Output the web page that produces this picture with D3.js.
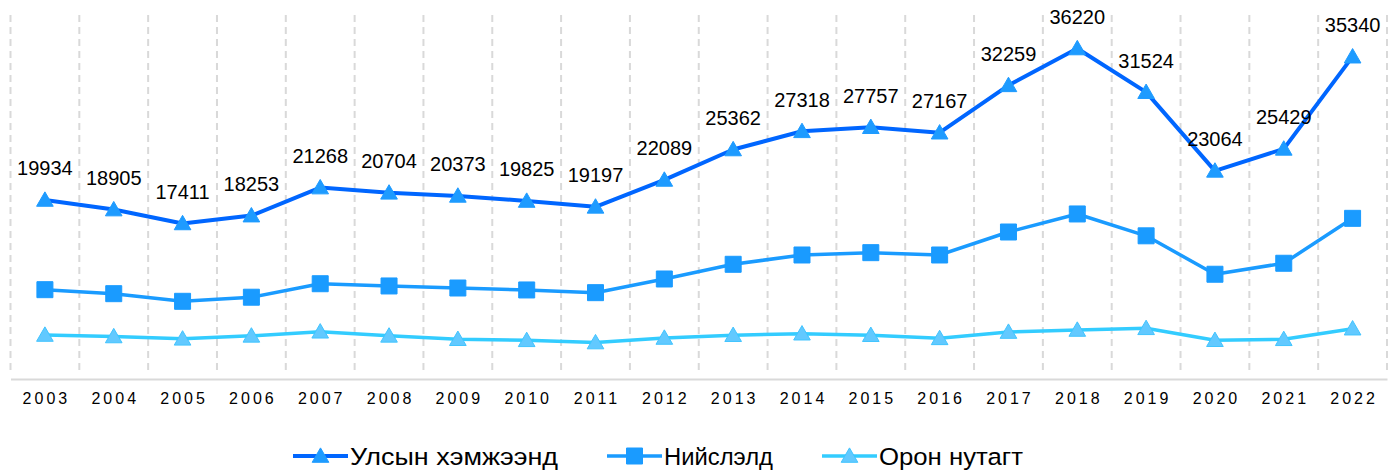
<html>
<head>
  <title>Average wage by year</title>
  <script type="text/javascript" src="https://d3js.org/d3.v7.min.js" charset="utf-8"></script>
  <style>
    body { margin: 0; background: #fff; }
    text { font-family: "Liberation Sans", Arial, sans-serif; fill: #000; }
  </style>
</head>

<body>
    <div id="container"></div>

    <script>
        // data
        var years = ['2003','2004','2005','2006','2007','2008','2009','2010','2011','2012',
                     '2013','2014','2015','2016','2017','2018','2019','2020','2021','2022']
        var national = [19934,18905,17411,18253,21268,20704,20373,19825,19197,22089,
                        25362,27318,27757,27167,32259,36220,31524,23064,25429,35340]
        var capital = [10290,9860,9040,9480,10930,10690,10470,10260,9970,11440,
                       13020,14020,14270,14020,16490,18430,16080,11950,13130,17960]
        var rural = [5420,5260,5010,5330,5770,5330,4970,4850,4610,5100,
                     5400,5560,5400,5060,5740,5960,6140,4860,4960,6100]
        var seriesNames = ['Улсын хэмжээнд', 'Нийслэлд', 'Орон нутагт']

        var w = 1396, h = 474
        var plot = { left: 10.5, right: 1387, top: 15, bottom: 385.4 }

        var svg = d3.select('#container').append('svg')
            .attr('width', w).attr('height', h)

        var x = d3.scaleBand().domain(years).range([plot.left, plot.right]).padding(0)
        var y = d3.scaleLinear().domain([0, 40000]).range([plot.bottom, plot.bottom - 40000 * 0.009302])

        var cx = function(d, i) { return x(years[i]) + x.bandwidth() / 2 }

        // dashed vertical gridlines between categories
        var bounds = years.map(function(d) { return x(d) }).concat([plot.right])
        svg.append('g').selectAll('line')
            .data(bounds)
            .enter().append('line')
                .attr('x1', function(d) { return d }).attr('x2', function(d) { return d })
                .attr('y1', plot.top).attr('y2', 373)
                .attr('stroke', '#d9d9d9').attr('stroke-width', 2)
                .attr('stroke-dasharray', '7,5')

        // category axis
        var xAxis = d3.axisBottom(x).tickSize(0).tickPadding(14)
        var gx = svg.append('g').attr('transform', 'translate(0,379)').call(xAxis)
        gx.select('.domain').attr('stroke', '#d9d9d9').attr('stroke-width', 2)
        gx.selectAll('text')
            .style('font-family', '"Liberation Sans", Arial, sans-serif')
            .style('font-size', '16px')
            .style('letter-spacing', '3px')
            .attr('fill', '#000')
            .attr('dx', '1.5px')

        var series = [
            { name: seriesNames[0], values: national, line: '#0066ff', fill: '#1e9bff', stroke: '#1e9bff', shape: d3.symbolTriangle, width: 4, textW: 208 },
            { name: seriesNames[1], values: capital, line: '#1a9bff', fill: '#1a9bff', stroke: '#1a9bff', shape: d3.symbolSquare, width: 3.5, textW: 109 },
            { name: seriesNames[2], values: rural, line: '#33ccff', fill: '#62c9ff', stroke: '#40c4ff', shape: d3.symbolTriangle, width: 3.5, textW: 144 }
        ]

        var line = d3.line()
            .x(function(d, i) { return cx(d, i) })
            .y(function(d) { return y(d) })

        function marker(s) {
            return d3.symbol().type(s.shape).size(s.shape === d3.symbolSquare ? 256 : 120)()
        }

        series.slice().reverse().forEach(function(s) {
            var g = svg.append('g')
            g.append('path')
                .attr('d', line(s.values))
                .attr('fill', 'none')
                .attr('stroke', s.line)
                .attr('stroke-width', s.width)
                .attr('stroke-linejoin', 'round')

            g.selectAll('.pt')
                .data(s.values)
                .enter().append('path')
                    .attr('class', 'pt')
                    .attr('d', marker(s))
                    .attr('transform', function(d, i) {
                        var dy = s.shape === d3.symbolTriangle ? 1.5 : 0
                        return 'translate(' + cx(d, i) + ',' + (y(d) + dy) + ')'
                    })
                    .attr('fill', s.fill)
                    .attr('stroke', s.stroke)
                    .attr('stroke-width', 1)
        })

        // value labels on the national series
        svg.append('g').selectAll('text')
            .data(national)
            .enter().append('text')
                .attr('x', function(d, i) { return cx(d, i) })
                .attr('y', function(d) { return y(d) - 24.5 })
                .attr('text-anchor', 'middle')
                .style('font-size', '20px')
                .text(function(d) { return d })

        // legend
        var legend = svg.append('g').attr('transform', 'translate(0,456)')
        var lx = 293
        series.forEach(function(s) {
            var item = legend.append('g').attr('transform', 'translate(' + lx + ',0)')
            item.append('line')
                .attr('x1', 0).attr('x2', 55)
                .attr('stroke', s.line).attr('stroke-width', s.width)
            item.append('path')
                .attr('d', marker(s))
                .attr('transform', 'translate(27.5,' + (s.shape === d3.symbolTriangle ? 1.5 : 0) + ')')
                .attr('fill', s.fill).attr('stroke', s.stroke)
            item.append('text')
                .attr('x', 57).attr('y', 8.5)
                .attr('textLength', s.textW)
                .attr('lengthAdjust', 'spacingAndGlyphs')
                .style('font-size', '24.5px')
                .text(s.name)
            lx += 57 + s.textW + 49
        })
    </script>

</body>
</html>
